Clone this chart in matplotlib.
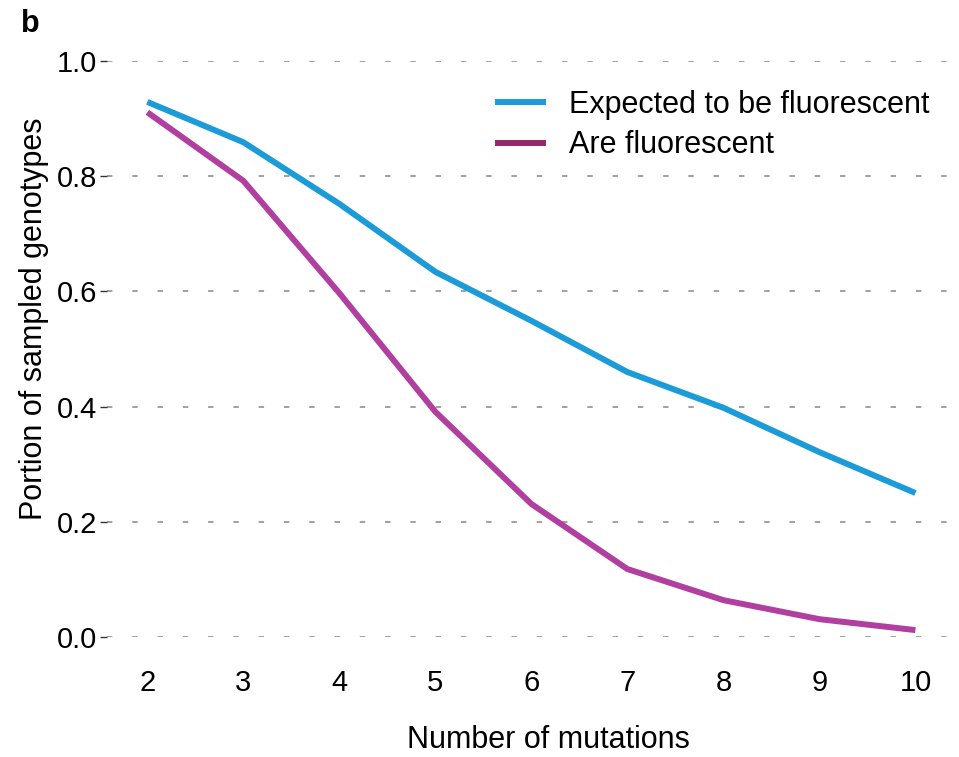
import matplotlib.pyplot as plt
from matplotlib.lines import Line2D

# Data
mutations = [2, 3, 4, 5, 6, 7, 8, 9, 10]
expected = [0.929, 0.859, 0.752, 0.634, 0.549, 0.460, 0.398, 0.321, 0.250]
observed = [0.911, 0.792, 0.597, 0.391, 0.231, 0.118, 0.064, 0.031, 0.012]
y_ticks = [0.0, 0.2, 0.4, 0.6, 0.8, 1.0]

blue = '#1b9bd7'
magenta = '#b13fa0'
magenta_legend = '#95286d'

plt.rcParams['font.family'] = ['Liberation Sans', 'DejaVu Sans']

fig = plt.figure(figsize=(9.59, 7.57), dpi=100)
ax = fig.add_axes([0.1116, 0.1585, 0.8790, 0.7609])

ax.plot(mutations, expected, color=blue, lw=4.3, clip_on=False, solid_capstyle='butt', zorder=3)
ax.plot(mutations, observed, color=magenta, lw=4.3, clip_on=False, solid_capstyle='butt', zorder=3)

ax.set_xlim(1.58, 10.36)
ax.set_ylim(0, 1)
ax.set_xticks(mutations)
ax.set_yticks(y_ticks)
ax.set_yticklabels([f'{v:.1f}' for v in y_ticks])
ax.tick_params(axis='x', length=0, labelsize=21, pad=23)
ax.tick_params(axis='y', length=5, width=1, color='#333333', labelsize=21, pad=2)

for s in ax.spines.values():
    s.set_visible(False)

ax.yaxis.grid(True, color='#999999', linestyle=(0, (3, 11)), linewidth=1.3)
ax.set_axisbelow(True)

ax.set_xlabel('Number of mutations', fontsize=22, labelpad=20)
ax.set_ylabel('Portion of sampled genotypes', fontsize=22, labelpad=6)
# labels in the original sit a little off-centre
ax.xaxis.label.set_x(0.524)
ax.yaxis.label.set_y(0.552)

handles = [Line2D([], [], color=blue, lw=4.3),
           Line2D([], [], color=magenta_legend, lw=4.3)]
ax.legend(handles, ['Expected to be fluorescent', 'Are fluorescent'],
          loc='upper right', bbox_to_anchor=(1.008, 0.998), fontsize=22,
          frameon=False, handlelength=1.45, handletextpad=0.85, labelspacing=0.35)

fig.text(0.022, 0.968, 'b', fontsize=22, fontweight='bold', va='center')

fig.savefig('out.png', dpi=100)
